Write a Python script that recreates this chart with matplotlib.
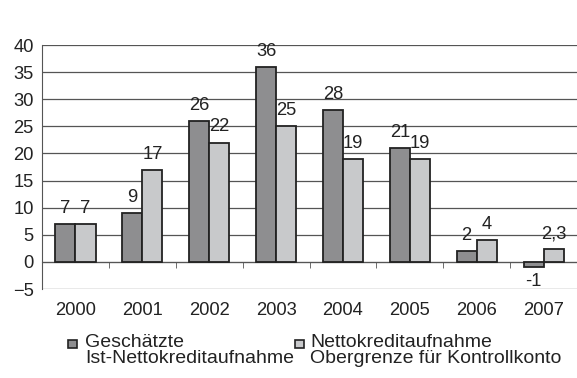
import matplotlib
matplotlib.use('Agg')
import matplotlib.pyplot as plt
import numpy as np
from matplotlib.patches import Rectangle

plt.rcParams['font.family'] = ['Liberation Sans', 'DejaVu Sans']

years = ['2000', '2001', '2002', '2003', '2004', '2005', '2006', '2007']
geschaetzt = [7, 9, 26, 36, 28, 21, 2, -1]
obergrenze = [7, 17, 22, 25, 19, 19, 4, 2.3]
label_geschaetzt = ['7', '9', '26', '36', '28', '21', '2', '-1']
label_obergrenze = ['7', '17', '22', '25', '19', '19', '4', '2,3']
legend_labels = ['Geschätzte\nIst-Nettokreditaufnahme',
                 'Nettokreditaufnahme\nObergrenze für Kontrollkonto']

DARK = '#8e8e90'
LIGHT = '#c8c9cb'
FS = 13.2
FS_LEG = 14

fig = plt.figure(figsize=(5.77, 3.78), dpi=100)
ax = fig.add_axes([42 / 577, 89 / 378, 1 - 42 / 577, 244 / 378])

x = np.arange(len(years))
w = 0.3
b1 = ax.bar(x - w / 2, geschaetzt, w, color=DARK, edgecolor='#222222', linewidth=1.3, zorder=3)
b2 = ax.bar(x + w / 2, obergrenze, w, color=LIGHT, edgecolor='#222222', linewidth=1.3, zorder=3)

for bars, labs in ((b1, label_geschaetzt), (b2, label_obergrenze)):
    for rect, lab in zip(bars, labs):
        h = rect.get_height()
        if h >= 0:
            ax.annotate(lab, (rect.get_x() + rect.get_width() / 2, h),
                        xytext=(0, 8), textcoords='offset points',
                        ha='center', va='baseline', fontsize=FS, color='#222222')
        else:
            ax.annotate(lab, (rect.get_x() + rect.get_width() / 2, h),
                        xytext=(0, -4), textcoords='offset points',
                        ha='center', va='top', fontsize=FS, color='#222222')

ax.set_xlim(-0.5, len(years) - 0.5)
ax.set_ylim(-5, 40)
ax.set_yticks(np.arange(-5, 41, 5))
ax.yaxis.grid(True, color='#555555', linewidth=0.9, zorder=0)
ax.tick_params(axis='y', length=0, pad=6, labelsize=FS, colors='#222222')

# x axis drawn at zero, labels pushed down below the plot
ax.spines['bottom'].set_position(('data', 0))
ax.spines['bottom'].set_color('#555555')
ax.spines['left'].set_color('#555555')
ax.spines['top'].set_visible(False)
ax.spines['right'].set_visible(False)
ax.set_xticks(x)
ax.set_xticklabels(years)
ax.set_xticks(np.arange(0.5, len(years) - 0.5, 1), minor=True)
ax.tick_params(axis='x', which='major', length=0, pad=29, labelsize=FS, colors='#222222')
ax.tick_params(axis='x', which='minor', length=4, direction='out', color='#555555')

# legend, built by hand
for (hx, tx), col, lab in zip(((68, 85), (295, 310)), (DARK, LIGHT), legend_labels):
    fig.patches.append(Rectangle((hx / 577, 1 - 348 / 378), 9 / 577, 8 / 378,
                                 transform=fig.transFigure, facecolor=col,
                                 edgecolor='#222222', linewidth=1.2))
    fig.text(tx / 577, 1 - 334 / 378, lab, ha='left', va='top', fontsize=FS_LEG,
             color='#222222', linespacing=0.95)

plt.savefig('out.png', dpi=100)
